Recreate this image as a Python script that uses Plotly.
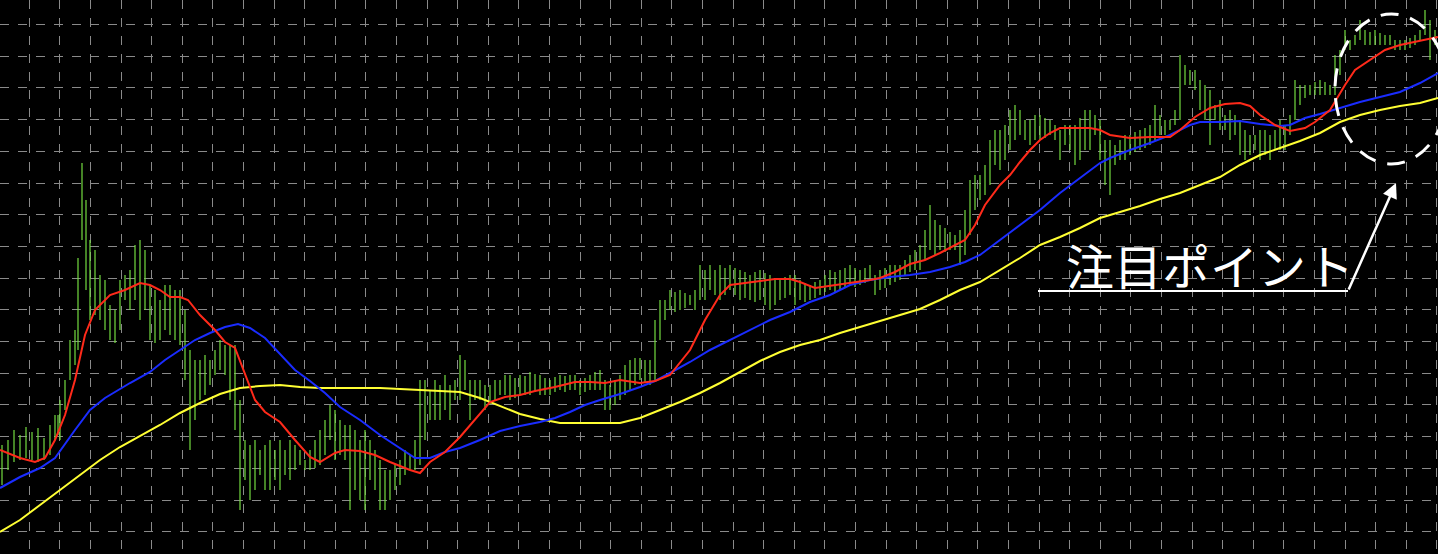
import plotly.graph_objects as go

# bar positions and high/low levels (screen-y units, smaller = higher)
bar_x = [2, 8, 14, 20, 26, 32, 38, 44, 50, 55, 58, 60, 65, 70, 75, 78, 82, 86, 90, 95, 100, 105, 110, 115, 120,
         125, 130, 135, 140, 145, 150, 155, 160, 165, 170, 175, 180, 185, 190, 195, 200, 205, 210, 215, 220,
         225, 230, 235, 240, 245, 250, 255, 260, 265, 270, 275, 280, 285, 290, 295, 300, 305, 310, 315, 320,
         325, 330, 335, 340, 345, 350, 355, 360, 365, 370, 375, 380, 385, 390, 395, 400, 405, 410, 415, 420,
         425, 430, 435, 440, 445, 450, 455, 460, 465, 470, 475, 480, 485, 490, 495, 500, 505, 510, 515, 520,
         525, 530, 535, 540, 545, 550, 555, 560, 565, 570, 575, 580, 585, 590, 595, 600, 605, 610, 615, 620,
         625, 630, 635, 640, 645, 650, 655, 660, 665, 670, 675, 680, 685, 690, 695, 700, 705, 710, 715, 720,
         725, 730, 735, 740, 745, 750, 755, 760, 765, 770, 775, 780, 785, 790, 795, 800, 805, 810, 815, 820,
         825, 830, 835, 840, 845, 850, 855, 860, 865, 870, 875, 880, 885, 890, 895, 900, 905, 910, 915, 920,
         925, 930, 935, 940, 945, 950, 955, 960, 965, 970, 975, 980, 985, 990, 995, 1000, 1005, 1010, 1015, 1020,
         1025, 1030, 1035, 1040, 1045, 1050, 1055, 1060, 1065, 1070, 1075, 1080, 1085, 1090, 1095, 1100, 1105, 1110, 1115, 1120,
         1125, 1130, 1135, 1140, 1145, 1150, 1155, 1160, 1165, 1170, 1175, 1180, 1185, 1190, 1195, 1200, 1205, 1210, 1215, 1220,
         1225, 1230, 1235, 1240, 1245, 1250, 1255, 1260, 1265, 1270, 1275, 1280, 1285, 1290, 1295, 1300, 1305, 1310, 1315, 1320,
         1325, 1330, 1335, 1340, 1345, 1350, 1355, 1360, 1365, 1370, 1375, 1380, 1385, 1390, 1395, 1400, 1405, 1410, 1415, 1420,
         1425, 1430, 1435]
bar_high = [445, 440, 430, 435, 427, 432, 428, 438, 425, 415, 415, 400, 380, 340, 330, 258, 163, 200, 240, 250, 275, 280, 305, 310, 280,
            275, 270, 245, 240, 250, 285, 290, 300, 285, 285, 290, 290, 310, 350, 360, 360, 355, 360, 350, 340,
            345, 345, 345, 400, 440, 445, 440, 450, 445, 440, 450, 440, 450, 440, 445, 450, 460, 450, 440, 430,
            420, 405, 410, 420, 425, 425, 430, 440, 430, 440, 450, 460, 470, 470, 465, 460, 450, 455, 440, 380,
            380, 390, 380, 385, 375, 385, 380, 355, 360, 380, 380, 380, 385, 385, 380, 380, 375, 375, 378, 375,
            376, 372, 374, 375, 378, 380, 377, 375, 376, 375, 375, 380, 378, 375, 372, 370, 380, 385, 380, 375,
            365, 360, 358, 358, 360, 360, 320, 300, 300, 290, 292, 290, 293, 295, 290, 265, 270, 265, 270, 265,
            268, 265, 268, 270, 272, 275, 272, 270, 273, 275, 278, 280, 277, 275, 275, 280, 283, 285, 282, 280,
            275, 270, 272, 270, 268, 265, 268, 270, 268, 265, 275, 270, 268, 265, 265, 265, 260, 255, 250, 245,
            230, 205, 220, 225, 228, 232, 235, 230, 210, 180, 175, 175, 165, 140, 130, 130, 125, 110, 105, 110,
            120, 120, 115, 115, 118, 120, 125, 130, 125, 125, 125, 118, 110, 110, 115, 120, 140, 140, 145, 140,
            135, 135, 132, 130, 128, 125, 105, 115, 120, 120, 110, 55, 65, 70, 70, 80, 85, 90, 105, 100,
            115, 110, 115, 120, 130, 135, 135, 130, 130, 135, 130, 120, 125, 115, 80, 85, 85, 85, 82, 80,
            82, 85, 55, 50, 30, 40, 35, 20, 30, 32, 30, 33, 35, 35, 40, 40, 40, 38, 35, 30,
            10, 20, 30]
bar_low = [485, 470, 462, 460, 458, 460, 462, 460, 455, 440, 435, 440, 410, 380, 365, 350, 240, 290, 320, 315, 320, 330, 340, 343, 330,
           300, 310, 300, 320, 310, 340, 343, 340, 330, 335, 340, 345, 380, 450, 420, 400, 395, 385, 375, 370,
           375, 400, 430, 510, 480, 500, 490, 475, 490, 490, 480, 490, 475, 480, 470, 465, 470, 470, 468, 465,
           455, 440, 460, 455, 460, 510, 490, 500, 510, 480, 490, 510, 510, 500, 490, 485, 475, 470, 470, 465,
           440, 420, 420, 420, 410, 420, 400, 400, 390, 420, 400, 400, 410, 405, 400, 395, 395, 400, 398, 395,
           395, 395, 392, 395, 395, 395, 392, 390, 392, 390, 390, 395, 392, 390, 390, 390, 410, 410, 405, 400,
           395, 390, 385, 380, 383, 385, 380, 340, 320, 310, 312, 310, 308, 305, 310, 300, 300, 290, 295, 300,
           295, 290, 295, 300, 298, 300, 302, 300, 305, 310, 305, 300, 298, 295, 305, 300, 302, 300, 298, 295,
           292, 290, 292, 290, 288, 285, 287, 285, 283, 280, 295, 290, 288, 285, 282, 280, 275, 272, 270, 270,
           260, 250, 255, 250, 252, 250, 250, 265, 255, 235, 210, 200, 195, 185, 165, 170, 160, 150, 140, 135,
           140, 145, 140, 140, 138, 135, 140, 160, 145, 150, 165, 160, 150, 150, 135, 160, 185, 195, 165, 160,
           160, 155, 152, 150, 148, 145, 140, 135, 135, 130, 125, 120, 85, 85, 90, 110, 120, 145, 120, 130,
           130, 140, 135, 155, 160, 155, 150, 160, 155, 160, 150, 150, 150, 135, 120, 105, 98, 95, 95, 95,
           95, 95, 95, 75, 50, 50, 45, 40, 45, 45, 45, 45, 45, 45, 50, 50, 50, 48, 45, 40,
           35, 60, 45]

# moving averages (screen-y units)
red_x = [0, 20, 35, 45, 55, 65, 75, 85, 95, 110, 125, 140, 150, 160, 170, 180, 188, 200, 215, 225, 235, 245, 255, 265,
         280, 295, 310, 320, 335, 345, 360, 375, 390, 410, 420, 430, 445, 460, 475, 490, 505, 520, 535, 555, 575, 590,
         605, 620, 640, 655, 670, 690, 705, 720, 730, 745, 760, 775, 790, 800, 815, 830, 850, 870, 880, 895, 910, 925,
         940, 955, 965, 975, 985, 1000, 1010, 1020, 1030, 1040, 1050, 1060, 1075, 1090, 1100, 1110, 1130, 1150, 1170,
         1180, 1195, 1210, 1225, 1240, 1250, 1260, 1275, 1290, 1305, 1315, 1330, 1345, 1355, 1370, 1385, 1400, 1415,
         1425, 1438]
red_y = [450, 458, 462, 458, 440, 415, 380, 335, 310, 295, 290, 283, 285, 290, 297, 297, 300, 315, 330, 342, 348, 375,
         400, 412, 422, 440, 457, 462, 453, 450, 451, 455, 462, 470, 473, 462, 452, 437, 420, 402, 397, 395, 391, 387,
         382, 382, 383, 380, 383, 381, 375, 350, 320, 295, 285, 283, 281, 279, 279, 282, 288, 286, 283, 280, 278, 272,
         264, 260, 253, 245, 240, 225, 205, 185, 175, 162, 150, 140, 133, 128, 128, 128, 130, 135, 138, 137, 137, 130,
         117, 108, 104, 103, 106, 115, 125, 131, 128, 122, 110, 85, 70, 60, 50, 45, 42, 40, 37]
blue_x = [0, 20, 40, 55, 75, 90, 105, 130, 150, 165, 180, 195, 210, 225, 238, 250, 265, 280, 295, 310, 325, 340, 360,
          380, 400, 415, 430, 445, 460, 480, 500, 520, 540, 555, 570, 585, 600, 620, 640, 655, 670, 690, 710, 730, 750,
          770, 790, 810, 830, 850, 870, 890, 910, 930, 950, 965, 980, 1000, 1020, 1040, 1060, 1080, 1100, 1110, 1130,
          1150, 1170, 1190, 1200, 1220, 1240, 1260, 1280, 1290, 1305, 1320, 1340, 1360, 1380, 1400, 1420, 1438]
blue_y = [488, 477, 468, 458, 430, 410, 398, 383, 372, 360, 350, 340, 333, 327, 324, 328, 338, 354, 370, 381, 393, 407,
          420, 435, 448, 458, 458, 452, 448, 440, 431, 426, 422, 418, 412, 405, 400, 394, 387, 381, 373, 362, 350, 340,
          330, 320, 312, 302, 295, 285, 280, 277, 275, 272, 267, 262, 255, 240, 225, 210, 193, 178, 163, 158, 150, 143,
          135, 125, 122, 122, 121, 124, 126, 125, 118, 114, 108, 102, 97, 92, 83, 73]
yellow_x = [0, 20, 40, 60, 80, 100, 120, 140, 160, 180, 200, 220, 240, 260, 280, 300, 320, 340, 380, 420, 440, 460, 480,
            500, 520, 540, 560, 580, 600, 620, 640, 660, 680, 700, 720, 740, 760, 780, 800, 820, 840, 860, 880, 900,
            920, 940, 960, 980, 1000, 1020, 1040, 1060, 1080, 1100, 1120, 1140, 1160, 1180, 1200, 1220, 1240, 1260,
            1280, 1300, 1320, 1340, 1360, 1380, 1400, 1420, 1438]
yellow_y = [532, 520, 505, 490, 475, 460, 447, 436, 425, 413, 403, 394, 388, 386, 385, 387, 388, 388, 388, 390, 391, 392,
            398, 406, 414, 419, 423, 423, 423, 423, 418, 410, 402, 393, 383, 372, 361, 352, 345, 340, 333, 327, 321, 315,
            309, 300, 290, 282, 270, 258, 245, 237, 228, 218, 212, 206, 199, 193, 185, 177, 165, 155, 148, 141, 133, 122,
            115, 110, 106, 103, 98]

# build vertical high-low segments
seg_x, seg_y = [], []
for x, h, l in zip(bar_x, bar_high, bar_low):
    seg_x += [x, x, None]
    seg_y += [h, l, None]

fig = go.Figure()
fig.add_trace(go.Scatter(x=seg_x, y=seg_y, mode="lines", line=dict(color="#74dc40", width=1.2), hoverinfo="skip"))
fig.add_trace(go.Scatter(x=yellow_x, y=yellow_y, mode="lines", line=dict(color="#ffff33", width=2)))
fig.add_trace(go.Scatter(x=blue_x, y=blue_y, mode="lines", line=dict(color="#1a2cff", width=2)))
fig.add_trace(go.Scatter(x=red_x, y=red_y, mode="lines", line=dict(color="#ff2a1a", width=2)))

# dashed circle + arrow + label
fig.add_shape(type="circle", x0=1335, x1=1448, y0=14, y1=164,
              line=dict(color="white", width=3, dash="18px,12px"))
fig.add_shape(type="line", x0=1038, x1=1348, y0=291, y1=291, line=dict(color="white", width=2))
fig.add_annotation(x=1396, y=183, ax=1348, ay=291, xref="x", yref="y", axref="x", ayref="y",
                   showarrow=True, arrowhead=2, arrowsize=1.2, arrowwidth=2.5, arrowcolor="white", text="")
fig.add_annotation(x=1210, y=264, text="注目ポイント", showarrow=False,
                   font=dict(family="Noto Sans CJK JP", size=48, color="white"))

fig.update_xaxes(range=[0, 1438], showgrid=True, gridcolor="#8a8a8a", griddash="dash", gridwidth=1,
                 tick0=29.3, dtick=30.6, showticklabels=False, zeroline=False)
fig.update_yaxes(range=[554, 0], showgrid=True, gridcolor="#8a8a8a", griddash="dash", gridwidth=1,
                 tick0=24.5, dtick=31.7, showticklabels=False, zeroline=False)
fig.update_layout(width=1438, height=554, margin=dict(l=0, r=0, t=0, b=0), showlegend=False,
                  plot_bgcolor="black", paper_bgcolor="black")

fig.write_html("out.html", config={"displayModeBar": False},
               post_script="document.body.style.margin='0';document.body.style.overflow='hidden';")
